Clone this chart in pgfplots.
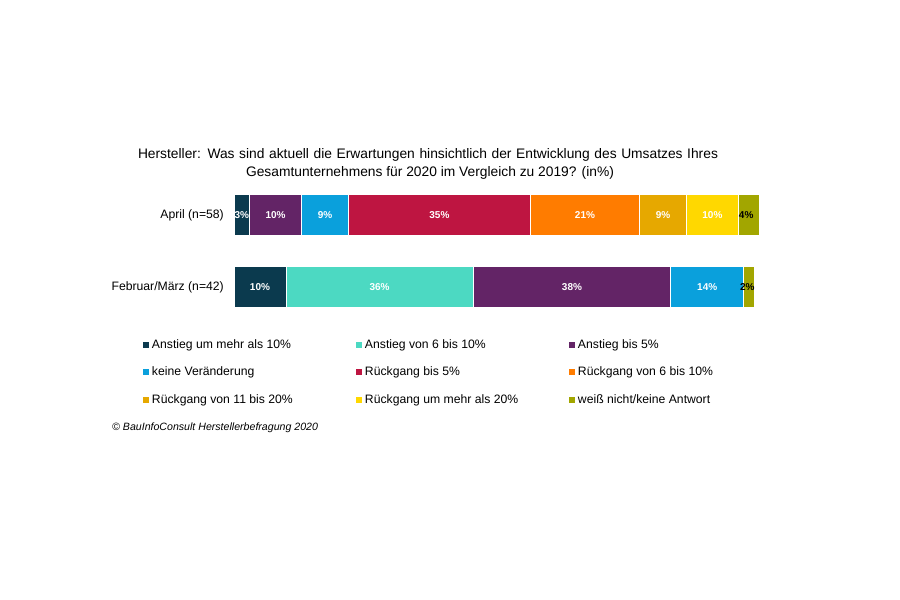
\documentclass[border=0pt]{standalone}
\usepackage{fontspec}
\setmainfont{Liberation Sans}
\usepackage{pgfplots}
\pgfplotsset{compat=1.18}
\definecolor{c1}{HTML}{0B3A4E}
\definecolor{c2}{HTML}{4CD9C2}
\definecolor{c3}{HTML}{632466}
\definecolor{c4}{HTML}{0AA0DC}
\definecolor{c5}{HTML}{BE1541}
\definecolor{c6}{HTML}{FF7C00}
\definecolor{c7}{HTML}{E6A800}
\definecolor{c8}{HTML}{FFD800}
\definecolor{c9}{HTML}{A2A600}
\newcommand{\LE}[1]{\makebox[204pt][l]{\rule[-3pt]{0pt}{12pt}#1}}
\pgfplotsset{
  sq/.style={fill=#1, draw=white, line width=1pt,
    legend image code/.code={\fill[#1] (0pt,-2.5pt) rectangle (5pt,2.5pt);}},
  geom/.style={at={(234pt,276.25pt)}, anchor=south west, scale only axis,
    width=520pt, height=145pt, xmin=0, xmax=100, ymin=-0.5, ymax=1.5, clip=false},
}
\begin{document}
\begin{tikzpicture}[x=1pt,y=1pt]
\path[use as bounding box] (0,0) rectangle (900,600);
\begin{axis}[geom,
  xbar stacked, bar width=41pt,
  axis line style={draw=none}, xtick=\empty,
  ytick={0,1}, yticklabels={Februar/März (n=42), April (n=58)},
  major tick length=0pt, tick style={draw=none},
  yticklabel style={font=\fontsize{12.2}{14}\selectfont, inner sep=0pt, anchor=east, xshift=-10pt},
  legend columns=3,
  legend cell align=left,
  legend style={draw=none, fill=none, inner sep=0pt, outer sep=0pt,
    at={(-0.175,-0.1086)}, anchor=north west,
    font=\fontsize{12.2}{14}\selectfont,
    nodes={inner sep=0pt}, row sep=17pt,
    /tikz/every odd column/.append style={column sep=3pt}},
]
\addplot[sq=c1] coordinates {(10,0) (3,1)};
\addplot[sq=c2] coordinates {(36,0) (0,1)};
\addplot[sq=c3] coordinates {(38,0) (10,1)};
\addplot[sq=c4] coordinates {(14,0) (9,1)};
\addplot[sq=c5] coordinates {(0,0) (35,1)};
\addplot[sq=c6] coordinates {(0,0) (21,1)};
\addplot[sq=c7] coordinates {(0,0) (9,1)};
\addplot[sq=c8] coordinates {(0,0) (10,1)};
\addplot[sq=c9] coordinates {(2,0) (4,1)};
\legend{\LE{Anstieg um mehr als 10\%}, \LE{Anstieg von 6 bis 10\%}, \LE{Anstieg bis 5\%},
        \LE{keine Veränderung}, \LE{Rückgang bis 5\%}, \LE{Rückgang von 6 bis 10\%},
        \LE{Rückgang von 11 bis 20\%}, \LE{Rückgang um mehr als 20\%}, \LE{weiß nicht/keine Antwort}}
\end{axis}
\begin{axis}[geom, hide axis,
  nodes near coords={\pgfplotspointmeta\%},
  point meta=explicit symbolic,
  nodes near coords align={center},
  every node near coord/.append style={font=\bfseries\fontsize{10}{12}\selectfont, inner sep=0pt},
]
\addplot[draw=none, mark=none, every node near coord/.append style={text=white}] coordinates {
  (1.5,1)[3] (8,1)[10] (17.5,1)[9] (39.5,1)[35] (67.5,1)[21] (82.5,1)[9] (92,1)[10]
  (5,0)[10] (28,0)[36] (65,0)[38] (91,0)[14]};
\addplot[draw=none, mark=none, every node near coord/.append style={text=black}] coordinates {
  (98.5,1)[4] (98.7,0)[2]};
\end{axis}
\node[anchor=base, font=\fontsize{13.8}{16}\selectfont] at (428,441.5)
  {\makebox[580pt][s]{Hersteller: Was sind aktuell die Erwartungen hinsichtlich der Entwicklung des Umsatzes Ihres}};
\node[anchor=base, font=\fontsize{13.8}{16}\selectfont] at (430,423.5)
  {Gesamtunternehmens für 2020 im Vergleich zu 2019? (in\%)};
\node[anchor=base west, inner sep=0pt, font=\itshape\fontsize{10.6}{12}\selectfont] at (112,169)
  {© BauInfoConsult Herstellerbefragung 2020};
\end{tikzpicture}
\end{document}
